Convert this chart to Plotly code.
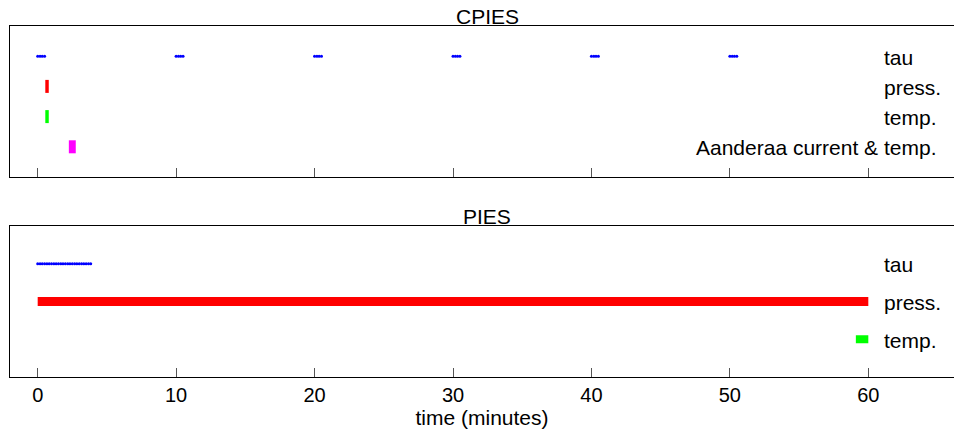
import plotly.graph_objects as go

# ---------------- data ----------------
tick_vals = [0, 10, 20, 30, 40, 50, 60]

# CPIES (top panel) - sampling times in minutes
cpies_tau_t = [0.0, 0.17, 0.33, 0.5,
               10.0, 10.17, 10.33, 10.5,
               20.0, 20.17, 20.33, 20.5,
               30.0, 30.17, 30.33, 30.5,
               40.0, 40.17, 40.33, 40.5,
               50.0, 50.17, 50.33, 50.5]
cpies_press_t = [0.55, 0.8]
cpies_temp_t = [0.55, 0.8]
cpies_aanderaa_t = [2.25, 2.75]
cpies_labels = ["tau", "press.", "temp.", "Aanderaa current & temp."]
cpies_rows = [1, 2, 3, 4]

# PIES (bottom panel)
pies_tau_t = [0.0, 0.17, 0.33, 0.5, 0.67, 0.83, 1.0, 1.17, 1.33, 1.5, 1.67, 1.83,
              2.0, 2.17, 2.33, 2.5, 2.67, 2.83, 3.0, 3.17, 3.33, 3.5, 3.67, 3.83]
pies_press_t = [0.0, 60.0]
pies_temp_t = [59.1, 60.0]
pies_labels = ["tau", "press.", "temp."]
pies_rows = [1, 2, 3]

label_x = 61.0
FONT = "Liberation Sans, Arial, sans-serif"
BLUE, RED, GREEN, MAGENTA = "#0000ff", "#ff0000", "#00ff00", "#ff00ff"
LABEL_SIZE = 21

fig = go.Figure()

# ---- top panel traces ----
fig.add_trace(go.Scatter(x=cpies_tau_t, y=[cpies_rows[0]] * len(cpies_tau_t), mode="markers",
                         marker=dict(color=BLUE, size=3, line=dict(width=0)),
                         xaxis="x", yaxis="y", showlegend=False))
fig.add_trace(go.Scatter(x=cpies_press_t, y=[cpies_rows[1]] * 2, mode="lines",
                         line=dict(color=RED, width=13), xaxis="x", yaxis="y", showlegend=False))
fig.add_trace(go.Scatter(x=cpies_temp_t, y=[cpies_rows[2]] * 2, mode="lines",
                         line=dict(color=GREEN, width=13), xaxis="x", yaxis="y", showlegend=False))
fig.add_trace(go.Scatter(x=cpies_aanderaa_t, y=[cpies_rows[3]] * 2, mode="lines",
                         line=dict(color=MAGENTA, width=13), xaxis="x", yaxis="y", showlegend=False))

# ---- bottom panel traces ----
fig.add_trace(go.Scatter(x=pies_tau_t, y=[pies_rows[0]] * len(pies_tau_t), mode="markers",
                         marker=dict(color=BLUE, size=3, line=dict(width=0)),
                         xaxis="x2", yaxis="y2", showlegend=False))
fig.add_trace(go.Scatter(x=pies_press_t, y=[pies_rows[1]] * 2, mode="lines",
                         line=dict(color=RED, width=9), xaxis="x2", yaxis="y2", showlegend=False))
fig.add_trace(go.Scatter(x=pies_temp_t, y=[pies_rows[2]] * 2, mode="lines",
                         line=dict(color=GREEN, width=8), xaxis="x2", yaxis="y2", showlegend=False))

annotations = []
for lab, r in zip(cpies_labels, cpies_rows):
    if lab.startswith("Aanderaa"):
        annotations.append(dict(x=65.05, y=r, xref="x", yref="y", text=lab, showarrow=False,
                                xanchor="right", yanchor="middle", yshift=-1,
                                font=dict(size=LABEL_SIZE, color="black", family=FONT)))
    else:
        annotations.append(dict(x=label_x, y=r, xref="x", yref="y", text=lab, showarrow=False,
                                xanchor="left", yanchor="middle", yshift=-1,
                                font=dict(size=LABEL_SIZE, color="black", family=FONT)))
for lab, r in zip(pies_labels, pies_rows):
    annotations.append(dict(x=label_x, y=r, xref="x2", yref="y2", text=lab, showarrow=False,
                            xanchor="left", yanchor="middle", yshift=-1,
                            font=dict(size=LABEL_SIZE, color="black", family=FONT)))

# titles
annotations.append(dict(x=0.5053, y=1 - 23 / 434, xref="paper", yref="paper", text="CPIES",
                        showarrow=False, xanchor="center", yanchor="bottom", yshift=-7,
                        font=dict(size=LABEL_SIZE, color="black", family=FONT)))
annotations.append(dict(x=0.5053, y=1 - 223 / 434, xref="paper", yref="paper", text="PIES",
                        showarrow=False, xanchor="center", yanchor="bottom", yshift=-7,
                        font=dict(size=LABEL_SIZE, color="black", family=FONT)))

axis_common = dict(range=[-2.0, 66.19], tickvals=tick_vals, ticks="inside", ticklen=9,
                   tickwidth=1, tickcolor="#555555", showline=True, linecolor="black",
                   linewidth=1, mirror=True, showgrid=False, zeroline=False,
                   tickfont=dict(size=20, color="black", family=FONT))

fig.update_layout(
    width=954, height=434,
    margin=dict(l=10, r=0, t=0, b=0),
    paper_bgcolor="white", plot_bgcolor="white",
    xaxis=dict(domain=[0, 1], anchor="y", showticklabels=False, **axis_common),
    yaxis=dict(domain=[1 - 177 / 434, 1 - 26 / 434], range=[5, 0], showticklabels=False,
               ticks="", showline=True, linecolor="black", linewidth=1, mirror=False,
               showgrid=False, zeroline=False),
    xaxis2=dict(domain=[0, 1], anchor="y2", showticklabels=True,
                title=dict(text="time (minutes)", standoff=4,
                           font=dict(size=LABEL_SIZE, color="black", family=FONT)),
                **axis_common),
    yaxis2=dict(domain=[1 - 377 / 434, 1 - 226 / 434], range=[4, 0], showticklabels=False,
                ticks="", showline=True, linecolor="black", linewidth=1, mirror=False,
                showgrid=False, zeroline=False),
    annotations=annotations,
    font=dict(family=FONT, color="black"),
)

fig.write_html("out.html")
